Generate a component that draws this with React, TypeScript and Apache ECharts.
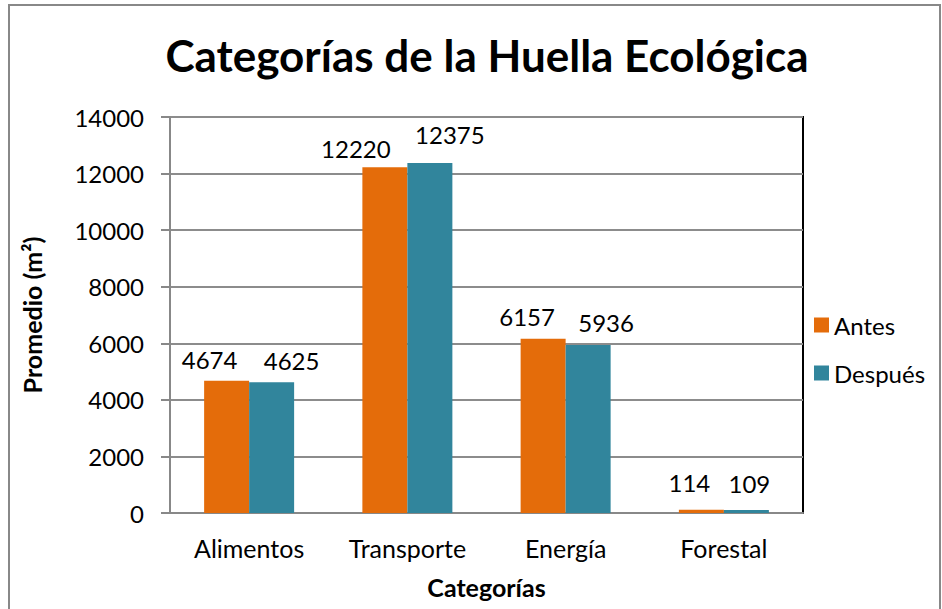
import React, { useEffect, useRef } from "react";
import * as echarts from "echarts";

const categories = ["Alimentos", "Transporte", "Energía", "Forestal"];
const antes = [4674, 12220, 6157, 114];
const despues = [4625, 12375, 5936, 109];
const seriesNames = ["Antes", "Después"];
const titleText = "Categorías de la Huella Ecológica";
const yName = "Promedio (m²)";
const xName = "Categorías";

// label displacement (style only): [dx, height of label centre above bar top]
const antesLabelShift = [[-17, 21], [-29, 19], [-16, 22], [-12, 27]];
const despuesLabelShift = [[20, 22], [20, 28], [18, 23], [3, 26]];

const FONT = "Lato, 'Open Sans', sans-serif";
const LABEL_SIZE = 24;

function buildData(values: number[], shifts: number[][]) {
  return values.map((v, i) => ({
    value: v,
    label: { offset: [shifts[i][0], -(shifts[i][1] - LABEL_SIZE / 2)] },
  }));
}

export default function App() {
  const ref = useRef<HTMLDivElement>(null);
  useEffect(() => {
    document.body.style.margin = "0";
    const chart = echarts.init(ref.current!, null, { renderer: "svg" });
    const labelStyle = {
      show: true,
      position: "top" as const,
      distance: 0,
      color: "#000",
      fontSize: LABEL_SIZE,
      lineHeight: LABEL_SIZE,
      fontFamily: FONT,
    };
    chart.setOption({
      animation: false,
      backgroundColor: "#fff",
      title: {
        text: titleText,
        left: 482,
        textAlign: "center",
        top: 28,
        textStyle: { fontSize: 44, fontWeight: "bold", color: "#000", fontFamily: FONT },
      },
      legend: {
        orient: "vertical",
        left: 809,
        top: 308,
        itemWidth: 15,
        itemHeight: 15,
        itemGap: 24,
        icon: "rect",
        textStyle: { fontSize: 24, color: "#000", fontFamily: FONT },
        data: seriesNames,
      },
      grid: {
        left: 170,
        right: 139,
        top: 117,
        bottom: 96,
        show: true,
        borderColor: "#000",
        borderWidth: 2,
      },
      xAxis: {
        type: "category",
        data: categories,
        name: xName,
        nameLocation: "middle",
        nameGap: 61,
        nameTextStyle: { fontSize: 25, fontWeight: "bold", color: "#000", fontFamily: FONT },
        axisLine: { lineStyle: { color: "#888", width: 2 } },
        axisTick: { show: false },
        axisLabel: { fontSize: 25, color: "#000", fontFamily: FONT, margin: 22 },
      },
      yAxis: {
        type: "value",
        min: 0,
        max: 14000,
        interval: 2000,
        name: yName,
        nameLocation: "middle",
        nameGap: 126,
        nameTextStyle: { fontSize: 25, fontWeight: "bold", color: "#000", fontFamily: FONT },
        axisLine: { show: true, lineStyle: { color: "#888", width: 2 } },
        axisTick: { show: true, length: 9, lineStyle: { color: "#888", width: 2 } },
        axisLabel: {
          fontSize: 24,
          color: "#000",
          fontFamily: FONT,
          margin: 26,
          formatter: (v: number) => String(v),
        },
        splitLine: { lineStyle: { color: "#8c8c8c", width: 2 } },
      },
      series: [
        {
          name: seriesNames[0],
          type: "bar",
          data: buildData(antes, antesLabelShift),
          barWidth: 45,
          barGap: "0%",
          itemStyle: { color: "#E46C0A" },
          label: labelStyle,
        },
        {
          name: seriesNames[1],
          type: "bar",
          data: buildData(despues, despuesLabelShift),
          barWidth: 45,
          barGap: "0%",
          itemStyle: { color: "#31859C" },
          label: labelStyle,
        },
      ],
      graphic: [
        {
          type: "rect",
          shape: { x: 9, y: 5, width: 931, height: 640 },
          style: { fill: "none", stroke: "#888", lineWidth: 2 },
          silent: true,
        },
      ],
    });
    return () => chart.dispose();
  }, []);
  return <div ref={ref} style={{ width: 942, height: 609 }} />;
}
